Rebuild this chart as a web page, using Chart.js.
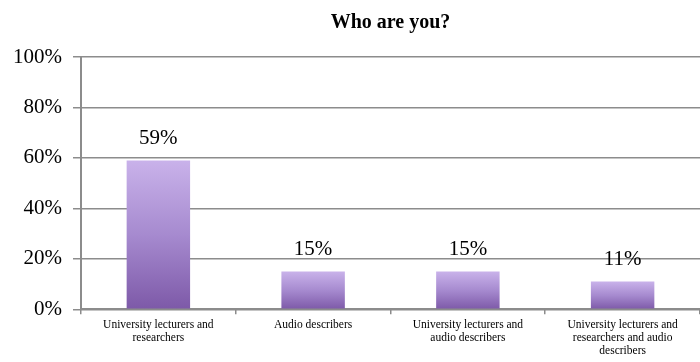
<!DOCTYPE html>
<html>
<head>
<meta charset="utf-8">
<script src="https://cdn.jsdelivr.net/npm/chart.js@4/dist/chart.umd.min.js"></script>
<style>
  html, body { margin: 0; padding: 0; background: #fff; }
  #wrap { width: 700px; height: 362px; }
</style>
</head>
<body>
<div id="wrap"><canvas id="chart"></canvas></div>
<script>
const categories = [
  ["University lecturers and", "researchers"],
  ["Audio describers"],
  ["University lecturers and", "audio describers"],
  ["University lecturers and", "researchers and audio", "describers"]
];
const shares = [59, 15, 15, 11];
const yTicks = [0, 20, 40, 60, 80, 100];

const serif = "'Liberation Serif', 'Times New Roman', serif";

// vertical purple fade, light at the top of each bar, dark at its base
function barFill(c) {
  const chart = c.chart;
  const area = chart.chartArea;
  if (!area || c.dataIndex === undefined) return "#9b7fc8";
  const y = chart.scales.y;
  const top = y.getPixelForValue(shares[c.dataIndex]);
  const bottom = y.getPixelForValue(0);
  const g = chart.ctx.createLinearGradient(0, top, 0, bottom);
  g.addColorStop(0, "#c9b2ea");
  g.addColorStop(0.5, "#a68acf");
  g.addColorStop(1, "#7d59a8");
  return g;
}

// percent labels over each bar
const valueLabels = {
  id: "valueLabels",
  afterDatasetsDraw(chart) {
    const ctx = chart.ctx;
    const meta = chart.getDatasetMeta(0);
    ctx.save();
    ctx.font = "21px " + serif;
    ctx.fillStyle = "#000";
    ctx.textAlign = "center";
    ctx.textBaseline = "middle";
    meta.data.forEach((bar, i) => {
      ctx.fillText(shares[i] + "%", bar.x, bar.y - 22);
    });
    ctx.restore();
  }
};

new Chart(document.getElementById("chart"), {
  type: "bar",
  data: {
    labels: categories,
    datasets: [{
      data: shares,
      backgroundColor: barFill,
      borderWidth: 0,
      barPercentage: 0.41,
      categoryPercentage: 1
    }]
  },
  options: {
    responsive: true,
    maintainAspectRatio: false,
    animation: false,
    layout: { padding: { left: 2, right: 0, top: 0, bottom: 0 } },
    plugins: {
      legend: { display: false },
      tooltip: { enabled: false },
      title: {
        display: true,
        fullSize: false,
        text: "Who are you?",
        color: "#000",
        font: { family: serif, size: 20, weight: "bold" },
        padding: { top: 11, bottom: 22 }
      }
    },
    scales: {
      y: {
        min: 0,
        max: 100,
        afterBuildTicks(axis) {
          axis.ticks = yTicks.map(v => ({ value: v }));
        },
        ticks: {
          color: "#000",
          font: { family: serif, size: 21 },
          padding: 11,
          callback: v => v + "%"
        },
        grid: { color: "#8c8c8c", lineWidth: 1.5, tickLength: 8 },
        border: { color: "#8c8c8c", width: 2 }
      },
      x: {
        ticks: {
          color: "#000",
          font: { family: serif, size: 11.5, lineHeight: 1.15 },
          maxRotation: 0,
          autoSkip: false,
          padding: 4
        },
        grid: { drawOnChartArea: false, color: "#8c8c8c", lineWidth: 1.5, tickLength: 5 },
        border: { color: "#8c8c8c", width: 2 }
      }
    }
  },
  plugins: [valueLabels]
});
</script>
</body>
</html>
